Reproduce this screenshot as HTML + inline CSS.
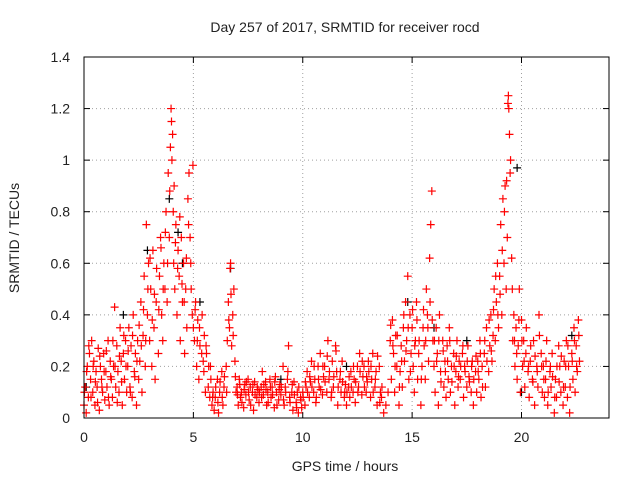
<!DOCTYPE html>
<html><head><meta charset="utf-8"><style>
body{margin:0;background:#fff}
svg text{font-family:"Liberation Sans",sans-serif;font-size:14px;fill:#222}
</style></head><body>
<svg id="chart" width="640" height="480" xmlns="http://www.w3.org/2000/svg">
<rect width="640" height="480" fill="#fff"/>
<text x="345" y="32" text-anchor="middle">Day 257 of 2017, SRMTID for receiver rocd</text>
<text transform="translate(19,238) rotate(-90)" text-anchor="middle">SRMTID / TECUs</text>
<text x="345" y="471" text-anchor="middle">GPS time / hours</text>
<g id="grid"></g><g id="ticks"></g><g id="marks"></g>
<rect x="84" y="57" width="525" height="361" fill="none" stroke="#000" stroke-width="1"/>
</svg>
<script>
const xTicks=[0,5,10,15,20];
const yTicks=[0,0.2,0.4,0.6,0.8,1,1.2,1.4];
const yTickLabels=["0","0.2","0.4","0.6","0.8","1","1.2","1.4"];
const redT=[0,0.05,0.1,0.15,0.2,0.25,0.3,0.35,0.4,0.45,0.5,0.55,0.6,0.65,0.7,0.75,0.8,0.85,0.9,0.95,
1.0,1.05,1.1,1.15,1.2,1.25,1.3,1.35,1.4,1.45,1.5,1.55,1.6,1.65,1.7,1.75,1.8,1.85,1.9,1.95,
2.0,2.05,2.1,2.15,2.2,2.25,2.3,2.35,2.4,2.45,2.5,2.55,2.6,2.65,2.7,2.75,2.8,2.85,2.9,2.95,
3.0,3.05,3.1,3.15,3.2,3.25,3.3,3.4,3.45,3.5,3.55,3.6,3.65,3.7,3.75,3.8,3.85,3.9,3.95,3.98,
4.0,4.05,4.1,4.12,4.15,4.2,4.25,4.3,4.35,4.4,4.45,4.5,4.55,4.6,4.65,4.7,4.75,4.8,4.85,4.9,4.95,
5.0,5.05,5.1,5.15,5.2,5.25,5.3,5.4,5.45,5.5,5.55,5.6,5.7,5.75,5.8,5.85,5.9,5.95,
6.0,6.1,6.15,6.2,6.3,6.35,6.4,6.5,6.55,6.6,6.65,6.7,6.75,6.8,6.85,6.9,6.95,
7.0,7.05,7.1,7.15,7.2,7.3,7.35,7.4,7.5,7.55,7.6,7.7,7.75,7.8,7.9,7.95,
8.0,8.1,8.15,8.2,8.3,8.35,8.4,8.5,8.55,8.6,8.7,8.75,8.8,8.9,8.95,
9.0,9.1,9.15,9.2,9.3,9.35,9.4,9.5,9.55,9.6,9.7,9.75,9.8,9.9,9.95,
10.0,10.1,10.15,10.2,10.3,10.35,10.4,10.5,10.55,10.6,10.7,10.75,10.8,10.9,10.95,
11.0,11.1,11.15,11.2,11.3,11.35,11.4,11.5,11.55,11.6,11.7,11.75,11.8,11.9,11.95,
12.0,12.1,12.15,12.2,12.3,12.35,12.4,12.5,12.55,12.6,12.7,12.75,12.8,12.9,12.95,
13.0,13.1,13.15,13.2,13.3,13.35,13.4,13.5,13.55,13.6,13.7,13.8,13.9,
14.0,14.05,14.1,14.15,14.2,14.25,14.3,14.4,14.45,14.5,14.55,14.6,14.65,14.7,14.75,14.8,14.85,14.9,14.95,
15.0,15.05,15.1,15.15,15.2,15.25,15.3,15.4,15.45,15.5,15.55,15.6,15.65,15.7,15.75,15.8,15.85,15.9,15.95,
16.0,16.05,16.1,16.15,16.2,16.25,16.3,16.4,16.45,16.5,16.55,16.6,16.65,16.7,16.75,16.8,16.9,16.95,
17.0,17.05,17.1,17.15,17.2,17.3,17.35,17.4,17.5,17.55,17.6,17.7,17.75,17.8,17.9,17.95,
18.0,18.05,18.1,18.15,18.2,18.3,18.35,18.4,18.5,18.55,18.6,18.65,18.7,18.75,18.8,18.85,18.9,18.95,
19.0,19.05,19.1,19.15,19.2,19.25,19.3,19.35,19.4,19.42,19.45,19.5,19.55,19.6,19.65,19.7,19.75,19.8,19.85,19.9,19.95,
20.0,20.05,20.1,20.15,20.2,20.3,20.35,20.4,20.5,20.55,20.6,20.7,20.75,20.8,20.9,20.95,
21.0,21.05,21.1,21.15,21.2,21.3,21.35,21.4,21.5,21.55,21.6,21.7,21.75,21.8,21.9,21.95,
22.0,22.05,22.1,22.15,22.2,22.3,22.35,22.4,22.45,22.5,22.55,22.6,22.65];
const redV=[0.05,0.12,0.02,0.2,0.08,0.25,0.15,0.3,0.1,0.22,0.05,0.18,0.12,0.27,0.03,0.2,0.15,0.1,0.25,0.07,
0.18,0.12,0.3,0.05,0.22,0.15,0.08,0.2,0.43,0.12,0.28,0.18,0.1,0.35,0.22,0.05,0.25,0.15,0.3,0.1,
0.2,0.35,0.12,0.28,0.08,0.4,0.18,0.25,0.05,0.3,0.15,0.22,0.45,0.1,0.32,0.55,0.2,0.75,0.4,0.6,
0.3,0.5,0.2,0.65,0.35,0.15,0.45,0.25,0.55,0.7,0.4,0.3,0.6,0.5,0.8,0.45,0.95,0.7,1.05,1.2,
1.15,1.1,0.6,0.9,0.5,0.75,0.4,0.65,0.55,0.3,0.7,0.45,0.6,0.25,0.5,0.35,0.85,0.95,0.7,0.5,0.4,
0.35,0.3,0.45,0.2,0.38,0.15,0.28,0.4,0.22,0.32,0.1,0.25,0.2,0.08,0.15,0.05,0.1,0.03,
0.08,0.15,0.02,0.1,0.18,0.05,0.12,0.2,0.3,0.45,0.35,0.6,0.28,0.4,0.5,0.22,0.1,
0.12,0.05,0.15,0.08,0.1,0.04,0.13,0.09,0.15,0.07,0.12,0.1,0.03,0.14,0.08,0.11,
0.06,0.12,0.18,0.09,0.14,0.05,0.1,0.15,0.08,0.12,0.04,0.16,0.1,0.07,0.13,
0.09,0.2,0.05,0.12,0.15,0.28,0.08,0.1,0.03,0.14,0.06,0.1,0.02,0.08,0.04,
0.1,0.05,0.12,0.18,0.08,0.14,0.22,0.1,0.15,0.06,0.2,0.12,0.25,0.09,0.16,
0.2,0.1,0.3,0.15,0.08,0.22,0.12,0.28,0.18,0.05,0.15,0.1,0.22,0.08,0.13,
0.05,0.12,0.08,0.18,0.1,0.15,0.06,0.2,0.12,0.25,0.09,0.16,0.2,0.1,0.14,
0.22,0.08,0.15,0.25,0.12,0.18,0.05,0.2,0.1,0.08,0.02,0.05,0.1,
0.3,0.15,0.38,0.25,0.1,0.32,0.2,0.05,0.18,0.28,0.12,0.35,0.22,0.45,0.3,0.55,0.15,0.4,0.25,
0.35,0.2,0.1,0.3,0.45,0.15,0.25,0.05,0.2,0.35,0.28,0.15,0.5,0.4,0.22,0.62,0.75,0.88,0.3,
0.2,0.1,0.35,0.25,0.05,0.4,0.18,0.3,0.12,0.22,0.08,0.28,0.15,0.35,0.1,0.2,0.25,0.05,
0.18,0.3,0.12,0.22,0.15,0.25,0.08,0.2,0.12,0.28,0.16,0.1,0.22,0.05,0.18,0.1,
0.22,0.15,0.3,0.08,0.2,0.25,0.12,0.35,0.18,0.28,0.4,0.22,0.32,0.5,0.3,0.45,0.6,0.35,
0.55,0.75,0.4,0.85,0.6,0.9,0.5,0.7,1.25,1.2,1.1,1.0,0.62,0.3,0.4,0.2,0.35,0.15,0.28,0.5,0.1,
0.38,0.2,0.3,0.12,0.25,0.18,0.08,0.22,0.15,0.3,0.05,0.2,0.12,0.4,0.25,0.1,
0.2,0.08,0.15,0.3,0.05,0.18,0.12,0.25,0.02,0.15,0.08,0.28,0.2,0.1,0.05,0.22,
0.12,0.3,0.08,0.2,0.02,0.25,0.15,0.35,0.1,0.28,0.18,0.38,0.22];
const redExtraT=[0.02,0.12,0.22,0.32,0.42,0.52,0.62,0.72,0.82,0.92,1.02,1.12,1.22,1.32,1.42,1.52,1.62,1.72,1.82,1.92,
2.02,2.12,2.22,2.32,2.42,2.52,2.62,2.72,2.82,2.92,3.02,3.12,3.22,3.32,3.42,3.52,3.62,3.72,3.82,3.92,
4.02,4.08,4.18,4.28,4.38,4.48,4.58,4.68,4.78,4.88,4.98,5.08,5.18,5.28,5.38,5.48,5.58,5.68,5.78,5.88,
6.02,6.12,6.22,6.32,6.42,6.52,6.62,6.68,6.72,6.82,6.92,7.02,7.12,7.22,7.32,7.42,7.52,7.62,7.72,7.82,7.92,
8.02,8.12,8.22,8.32,8.42,8.52,8.62,8.72,8.82,8.92,9.02,9.12,9.22,9.32,9.42,9.52,9.62,9.72,9.82,9.92,
10.02,10.12,10.22,10.32,10.42,10.52,10.62,10.72,10.82,10.92,11.02,11.12,11.22,11.32,11.42,11.52,11.62,11.72,11.82,11.92,
12.02,12.12,12.22,12.32,12.42,12.52,12.62,12.72,12.82,12.92,13.02,13.12,13.22,13.32,13.42,13.52,13.62,
14.02,14.12,14.22,14.32,14.42,14.52,14.62,14.72,14.82,14.92,15.02,15.12,15.22,15.32,15.42,15.52,15.62,15.72,15.82,15.92,
16.02,16.12,16.22,16.32,16.42,16.52,16.62,16.72,16.82,16.92,17.02,17.12,17.22,17.32,17.42,17.52,17.62,17.72,17.82,17.92,
18.02,18.12,18.22,18.32,18.42,18.52,18.62,18.72,18.82,18.92,19.02,19.12,19.22,19.32,19.38,19.48,19.58,19.68,19.78,19.88,
20.02,20.12,20.22,20.32,20.42,20.52,20.62,20.72,20.82,20.92,21.02,21.12,21.22,21.32,21.42,21.52,21.62,21.72,21.82,21.92,
22.02,22.12,22.22,22.32,22.42,22.52,22.62];
const redExtraV=[0.1,0.18,0.28,0.08,0.2,0.14,0.06,0.24,0.12,0.18,0.26,0.08,0.16,0.3,0.2,0.06,0.24,0.14,0.32,0.2,
0.26,0.1,0.32,0.16,0.22,0.36,0.28,0.42,0.3,0.5,0.62,0.38,0.48,0.58,0.42,0.66,0.5,0.72,0.6,0.88,
1.0,0.8,0.68,0.58,0.78,0.52,0.45,0.62,0.75,0.6,0.98,0.42,0.3,0.35,0.25,0.18,0.28,0.12,0.2,0.08,
0.12,0.06,0.14,0.08,0.16,0.1,0.38,0.58,0.48,0.32,0.16,0.09,0.13,0.06,0.11,0.14,0.1,0.05,0.13,0.09,0.12,
0.1,0.08,0.13,0.11,0.06,0.12,0.09,0.14,0.05,0.11,0.12,0.07,0.1,0.18,0.06,0.13,0.09,0.04,0.12,0.07,
0.08,0.14,0.1,0.16,0.12,0.2,0.08,0.15,0.11,0.2,0.14,0.24,0.18,0.1,0.16,0.26,0.12,0.18,0.14,0.1,
0.1,0.16,0.12,0.2,0.14,0.1,0.18,0.22,0.12,0.16,0.18,0.2,0.1,0.15,0.24,0.06,0.12,
0.36,0.28,0.2,0.32,0.12,0.22,0.4,0.26,0.35,0.18,0.42,0.28,0.38,0.3,0.15,0.42,0.3,0.35,0.45,0.38,
0.3,0.22,0.3,0.14,0.26,0.18,0.22,0.3,0.14,0.2,0.24,0.16,0.2,0.28,0.18,0.22,0.14,0.2,0.15,0.24,
0.18,0.25,0.12,0.3,0.22,0.38,0.26,0.42,0.55,0.4,0.48,0.65,0.8,0.92,1.22,0.95,0.5,0.3,0.25,0.38,
0.3,0.22,0.35,0.2,0.28,0.14,0.24,0.18,0.32,0.2,0.15,0.22,0.1,0.2,0.16,0.08,0.2,0.14,0.24,0.12,
0.2,0.28,0.12,0.22,0.3,0.2,0.32];
const blackT=[0.1,2.9,3.9,4.3,4.5,5.3,6.7,19.8,16.0,22.3,14.8,9.0,12.0,20.0,1.8,17.5];
const blackV=[0.12,0.65,0.85,0.72,0.6,0.45,0.58,0.97,0.35,0.32,0.45,0.15,0.2,0.1,0.4,0.3];

const X0=84,X1=609,Y0=418,Y1=57,XMAX=24,YMAX=1.4;
const sx=t=>X0+(X1-X0)*t/XMAX;
const sy=v=>Y0-(Y0-Y1)*v/YMAX;
const NS="http://www.w3.org/2000/svg";
const grid=document.getElementById('grid'),ticks=document.getElementById('ticks'),marks=document.getElementById('marks');
function mk(tag,attrs,parent){const e=document.createElementNS(NS,tag);for(const k in attrs)e.setAttribute(k,attrs[k]);parent.appendChild(e);return e;}
yTicks.forEach((v,i)=>{
  const y=sy(v);
  if(i>0&&i<yTicks.length-1){const g=mk('line',{x1:X0,x2:X1,y1:y,y2:y,stroke:'#a0a0a0','stroke-dasharray':'1,3'},grid);
  
  }
  mk('line',{x1:X0,x2:X0+6,y1:y,y2:y,stroke:'#000'},ticks);
  mk('line',{x1:X1,x2:X1-6,y1:y,y2:y,stroke:'#000'},ticks);
  const t=mk('text',{x:X0-14,y:y+5,'text-anchor':'end'},ticks);t.textContent=yTickLabels[i];
  
  
});
xTicks.forEach(v=>{
  const x=sx(v);
  if(v>0){const g=mk('line',{x1:x,x2:x,y1:Y0,y2:Y1,stroke:'#a0a0a0','stroke-dasharray':'1,3'},grid);
  
  }
  mk('line',{x1:x,x2:x,y1:Y0,y2:Y0-6,stroke:'#000'},ticks);
  mk('line',{x1:x,x2:x,y1:Y1,y2:Y1+6,stroke:'#000'},ticks);
  const t=mk('text',{x:x,y:Y0+24,'text-anchor':'middle'},ticks);t.textContent=String(v);
  
  
});
function plus(t,v,col,name){
  const x=sx(t),y=sy(v);
  const p=mk('path',{d:`M${x-4},${y}H${x+4}M${x},${y-4}V${y+4}`,stroke:col,'stroke-width':1.2,fill:'none'},marks);
  
  
}
blackT.forEach((t,i)=>plus(t,blackV[i],'#000','black-point'));
redT.forEach((t,i)=>plus(t,redV[i],'#ff0000','red-point'));
redExtraT.forEach((t,i)=>plus(t,redExtraV[i],'#ff0000','red-point'));
</script>
</body></html>
